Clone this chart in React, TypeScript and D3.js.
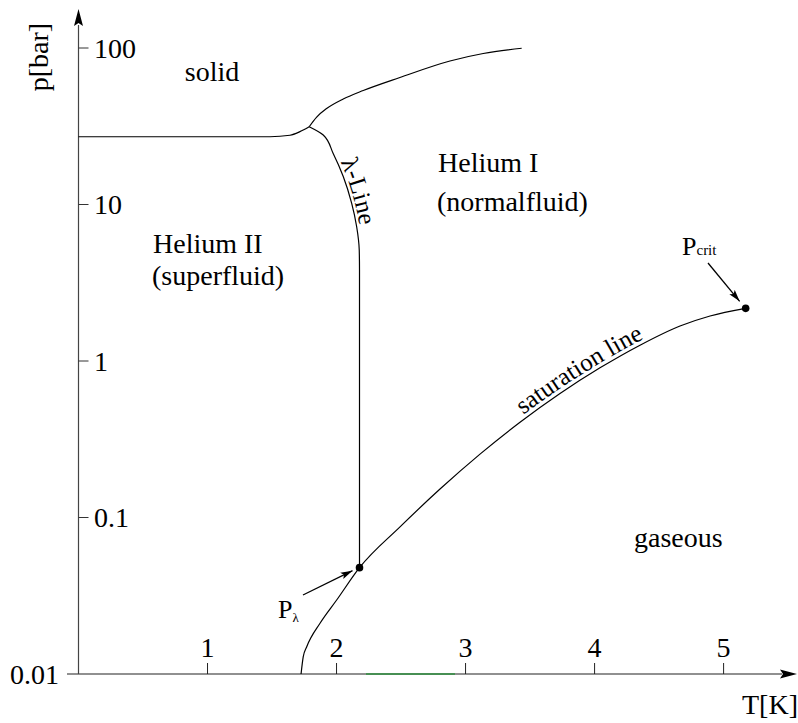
import React from 'react';
import * as d3 from 'd3';

// Axis ticks
const xTicks = [1, 2, 3, 4, 5];
const xTickLabels = ['1', '2', '3', '4', '5'];
const yTicks = [0.1, 1, 10, 100];
const yTickLabels = ['0.1', '1', '10', '100'];
const yOriginLabel = '0.01';

// Solid / He II boundary (T in K, p in bar)
const meltIIT = [0, 1.0, 1.484, 1.639, 1.716, 1.788];
const meltIIP = [27.1, 27.1, 27.1, 27.7, 29.2, 31.4];
// Solid / He I boundary
const meltIT = [1.788, 1.846, 1.923, 2.052, 2.207, 2.491, 2.879, 3.137, 3.435];
const meltIP = [31.4, 36.2, 41.0, 47.2, 53.5, 64.8, 82.6, 92.2, 99.6];
// Lambda line, from the upper lambda point down to the lower one
const lambdaT = [1.788, 1.897, 1.974, 2.052, 2.117, 2.156, 2.176, 2.178, 2.178];
const lambdaP = [31.4, 27.8, 21.2, 15.1, 10.2, 7.21, 5.12, 3.81, 0.0478];
// Saturation (vapour pressure) line up to the critical point
const satT = [1.725, 1.742, 1.769, 1.872, 2.001, 2.178, 2.492, 2.802, 3.112, 3.422, 3.732, 4.042, 4.352, 4.662, 4.895, 5.171];
const satP = [0.01, 0.0129, 0.01494, 0.0211, 0.0297, 0.0478, 0.0871, 0.152, 0.254, 0.406, 0.62, 0.904, 1.262, 1.674, 1.94, 2.17];

// Marked points
const lambdaPointT = 2.178;
const lambdaPointP = 0.0478;
const critPointT = 5.171;
const critPointP = 2.17;

const W = 798;
const H = 723;
const FONT = '"Liberation Serif", "Times New Roman", Times, serif';

const x = d3.scaleLinear().domain([0, 5]).range([78.5, 723.6]);
const y = d3.scaleLog().domain([0.01, 100]).range([674, 48]);

type Pt = [number, number];
const zip = (ts: number[], ps: number[]): Pt[] => ts.map((t, i) => [t, ps[i]]);

const lineX = d3
  .line<Pt>()
  .x((d) => x(d[0]))
  .y((d) => y(d[1]))
  .curve(d3.curveMonotoneX);
const lineY = d3
  .line<Pt>()
  .x((d) => x(d[0]))
  .y((d) => y(d[1]))
  .curve(d3.curveMonotoneY);

export default function App() {
  const x0 = x(0);
  const y0 = y(0.01);
  const meltII = lineX(zip(meltIIT, meltIIP)) || '';
  const meltI = lineX(zip(meltIT, meltIP)) || '';
  const lambda = lineY(zip(lambdaT, lambdaP)) || '';
  const sat = lineX(zip(satT, satP)) || '';

  const lx = x(lambdaPointT);
  const ly = y(lambdaPointP);
  const cx = x(critPointT);
  const cy = y(critPointP);

  return (
    <svg
      width={W}
      height={H}
      viewBox={`0 0 ${W} ${H}`}
      style={{ position: 'absolute', left: 0, top: 0, background: '#fff', fontFamily: FONT }}
    >
      <defs>
        <marker id="head" viewBox="0 0 12 8" refX="12" refY="4" markerWidth="12" markerHeight="8" markerUnits="userSpaceOnUse" orient="auto">
          <path d="M0,0.5 L12,4 L0,7.5 L2.5,4 Z" fill="#000" />
        </marker>
      </defs>

      {/* axes */}
      <line x1={67} y1={y0} x2={782} y2={y0} stroke="#222" strokeWidth={1.2} />
      <path d={`M797,${y0} L780,${y0 - 4.5} L783,${y0} L780,${y0 + 4.5} Z`} fill="#000" />
      <line x1={x0} y1={y0} x2={x0} y2={25} stroke="#444" strokeWidth={1.2} />
      <path d={`M${x0},9 L${x0 - 4.5},26 L${x0},23 L${x0 + 4.5},26 Z`} fill="#000" />
      <line x1={366} y1={y0} x2={455} y2={y0} stroke="#2f8f3f" strokeWidth={1.3} />

      {xTicks.map((t, i) => (
        <g key={`xt${t}`}>
          <line x1={x(t)} y1={y0} x2={x(t)} y2={y0 - 11} stroke="#222" strokeWidth={1} />
          <text x={x(t)} y={657} fontSize={28} textAnchor="middle">{xTickLabels[i]}</text>
        </g>
      ))}
      {yTicks.map((p, i) => (
        <g key={`yt${p}`}>
          <line x1={x0} y1={y(p)} x2={x0 + 10} y2={y(p)} stroke="#333" strokeWidth={1} />
          <text x={94} y={y(p) + 9.5} fontSize={28}>{yTickLabels[i]}</text>
        </g>
      ))}
      <text x={59} y={y0 + 9.5} fontSize={28} textAnchor="end">{yOriginLabel}</text>

      <text transform="translate(48,57) rotate(-90)" fontSize={28} textAnchor="middle">p[bar]</text>
      <text x={798} y={714} fontSize={28} textAnchor="end">T[K]</text>

      {/* phase boundaries */}
      <g fill="none" stroke="#000" strokeWidth={1.2}>
        <path d={meltII} />
        <path d={meltI} />
        <path id="lambdaPath" d={lambda} />
        <path id="satPath" d={sat} />
      </g>

      <text fontSize={25}>
        <textPath href="#lambdaPath" startOffset="10.5%">
          <tspan dy={-3}>λ-Line</tspan>
        </textPath>
      </text>
      <text fontSize={25}>
        <textPath href="#satPath" startOffset="58.3%">
          <tspan dy={-4}>saturation line</tspan>
        </textPath>
      </text>

      {/* region names */}
      <g fontSize={28}>
        <text x={212} y={81} textAnchor="middle">solid</text>
        <text x={153} y={253}>Helium II</text>
        <text x={152} y={285}>(superfluid)</text>
        <text x={438} y={172}>Helium I</text>
        <text x={437} y={211}>(normalfluid)</text>
        <text x={634} y={547}>gaseous</text>
      </g>

      {/* lambda point and critical point */}
      <circle cx={lx} cy={ly} r={3.8} fill="#000" />
      <circle cx={cx} cy={cy} r={3.8} fill="#000" />
      <line x1={303} y1={595} x2={lx - 7} y2={ly + 3} stroke="#000" strokeWidth={1.3} markerEnd="url(#head)" />
      <line x1={708} y1={263} x2={cx - 6} y2={cy - 7} stroke="#000" strokeWidth={1.3} markerEnd="url(#head)" />

      <text x={278} y={618} fontSize={26}>
        P<tspan fontSize={13} dy={4}>λ</tspan>
      </text>
      <text x={682} y={255} fontSize={26}>
        P<tspan fontSize={15}>crit</tspan>
      </text>
    </svg>
  );
}
